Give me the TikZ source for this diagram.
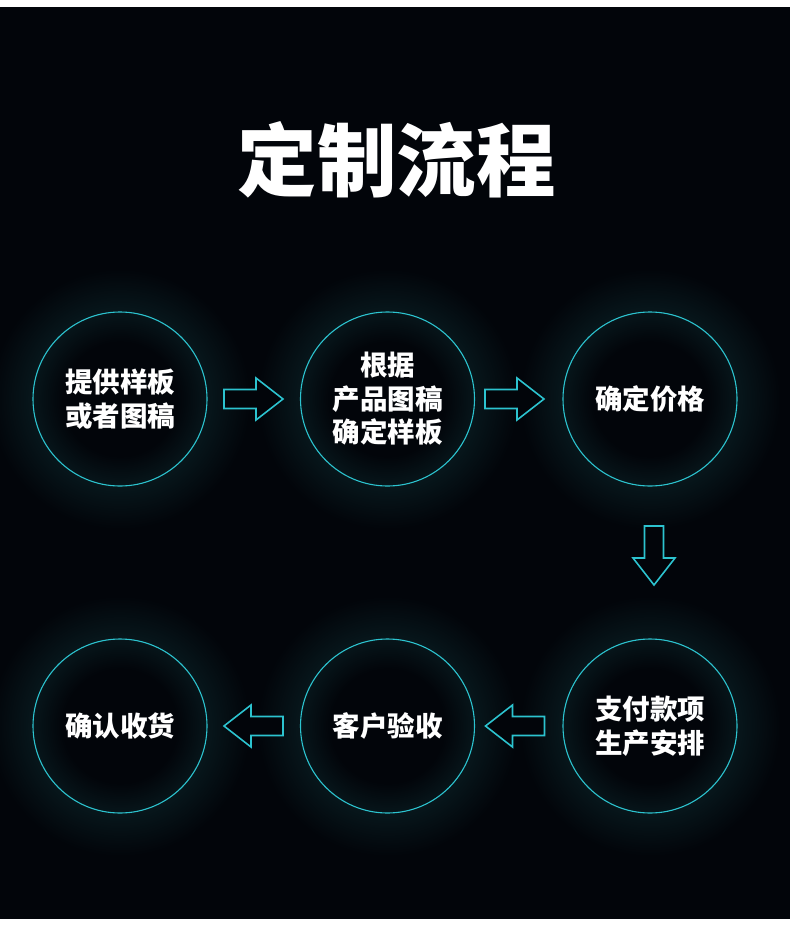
\documentclass[tikz,border=0pt]{standalone}
\usepackage{fontspec}
\newfontfamily\cjk{Noto Sans CJK SC}
\usetikzlibrary{positioning}
\definecolor{bg}{HTML}{02050A}
\definecolor{cyanline}{HTML}{2CC3CF}
\definecolor{glowc}{HTML}{07161B}
\pgfdeclareradialshading{glow}{\pgfpoint{0bp}{0bp}}{%
  color(0bp)=(bg); color(11bp)=(bg); color(17bp)=(glowc); color(25bp)=(bg); color(50bp)=(bg)}
\tikzset{
  every node/.style={font=\cjk\bfseries, text=white},
  stepcircle/.style={circle, draw=cyanline, line width=1.1pt, minimum size=174pt,
    inner sep=0pt, align=center, font=\cjk\bfseries\fontsize{27.5}{33.5}\selectfont},
  titletext/.style={font=\cjk\bfseries\fontsize{79.5}{80}\selectfont},
  pics/blockarrow/.style={code={
    \draw[cyanline, line width=1.6pt, fill=bg, line join=miter]
      (-29.5,-9.5) -- (2.5,-9.5) -- (2.5,-21) -- (29.5,0) -- (2.5,21) -- (2.5,9.5) -- (-29.5,9.5) -- cycle;
  }}
}
\begin{document}
\begin{tikzpicture}[x=1pt, y=-1pt]
\useasboundingbox (0,0) rectangle (790,937);
\fill[white] (0,0) rectangle (790,937);
\fill[bg] (0,7) rectangle (790,919);
% glows
\foreach \cx/\cy in {120/399, 387.5/399, 650/399, 120/726, 387.5/726, 650/726}{
  \shade[shading=glow] (\cx,\cy) circle[radius=130];
}
\node[titletext] (title) at (396.5,160) {定制流程};
\node[stepcircle] (s1) at (120,399) {提供样板\\或者图稿};
\node[stepcircle] (s2) at (387.5,399) {根据\\产品图稿\\确定样板};
\node[stepcircle] (s3) at (650,399) {确定价格};
\node[stepcircle] (s4) at (650,726) {支付款项\\生产安排};
\node[stepcircle] (s5) at (387.5,726) {客户验收};
\node[stepcircle] (s6) at (120,726) {确认收货};
\pic at (253.5,399) {blockarrow};
\pic at (514.5,399) {blockarrow};
\pic[rotate=-90] at (654,555.5) {blockarrow};
\pic[rotate=180] at (515,726) {blockarrow};
\pic[rotate=180] at (253.5,726) {blockarrow};
\end{tikzpicture}
\end{document}
